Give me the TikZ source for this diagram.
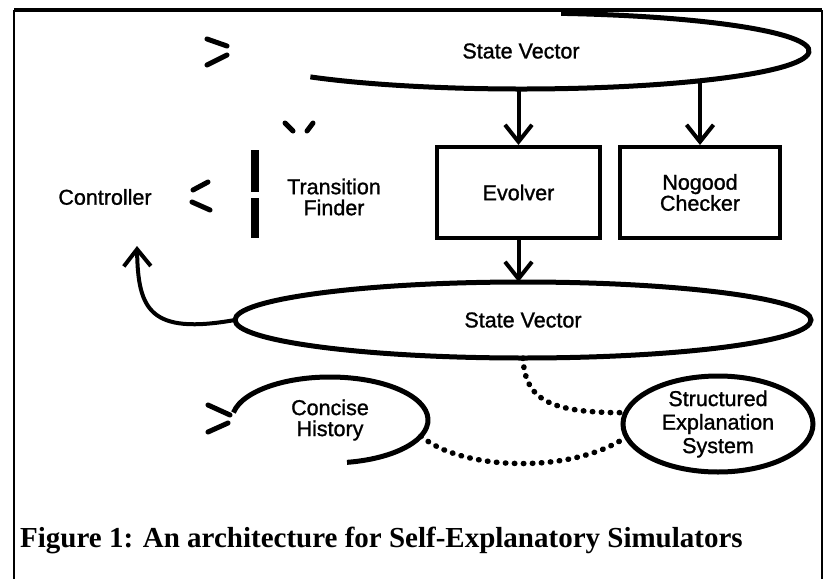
\documentclass[tikz,border=0pt]{standalone}
\usepackage{fontspec}
\setmainfont{Liberation Serif}
\setsansfont{Liberation Sans}
\newfontfamily\diagsans{Liberation Sans}[BoldFont={Liberation Sans}, BoldFeatures={FakeBold=1.2}]
\usetikzlibrary{shapes.geometric,arrows.meta,calc}

\begin{document}
\begin{tikzpicture}[x=1pt,y=1pt,
  lbl/.style={font=\diagsans\bfseries\fontsize{21.5}{21}\selectfont, align=center, inner sep=0pt},
  oval/.style={ellipse, inner sep=0pt, outer sep=0pt, lbl},
  ovalline/.style={line width=5pt},
  boxnode/.style={rectangle, draw, line width=4pt, minimum width=163pt, minimum height=91pt, inner sep=0pt, lbl},
  flow/.style={line width=4pt, -{Straight Barb[length=17pt,width=27pt]}},
  dots/.style={line width=5.5pt, line cap=round, dash pattern=on 0.5pt off 8.5pt},
  tick/.style={line width=5pt, line cap=round},
  frameline/.style={line width=2.5pt}]
\useasboundingbox (0,0) rectangle (831,-579);

% frame (open at the bottom)
\draw[frameline, line width=3.5pt] (14,-10) -- (822,-10);
\draw[frameline] (14,-10) -- (14,-579);
\draw[frameline] (822,-10) -- (822,-579);

% upper state vector (only part of its outline)
\node[oval, minimum width=576pt, minimum height=76pt] (sv1) at (521,-51) {State Vector};
\draw[ovalline] ([shift={(82:288 and 38)}]sv1.center)
  arc[start angle=82, end angle=-137, x radius=288, y radius=38];

% boxes
\node[boxnode] (ev) at (518.5,-192.5) {Evolver};
\node[boxnode, minimum width=160pt] (ng) at (700,-192.5) {Nogood\\Checker};

% lower state vector
\node[oval, draw, ovalline, minimum width=576pt, minimum height=76pt] (sv2) at (523,-320) {State Vector};

% controller and transition finder
\node[lbl] (ctrl) at (105,-197) {Controller};
\coordinate (ctrlin) at (137,-246);
\node[lbl] (tf) at (334,-197) {Transition\\Finder};
\draw[line width=8pt] (255,-150) -- (255,-192);
\draw[line width=8pt] (255,-198) -- (255,-238);

% concise history (partial outline)
\node[oval, minimum width=196pt, minimum height=86pt] (ch) at (330,-420) {Concise\\History};
\draw[ovalline] ([shift={(170:98 and 43)}]ch.center)
  arc[start angle=170, end angle=-80, x radius=98, y radius=43];

% structured explanation system
\node[oval, draw, ovalline, minimum width=190pt, minimum height=96pt,
  font=\diagsans\bfseries\fontsize{21.5}{23.5}\selectfont] (ses) at (718,-424) {Structured\\Explanation\\System};

% flows
\draw[flow] (ev.north |- sv1.-90) -- (ev.north);
\draw[flow] (ng.north |- sv1.-9.6) -- (ng.north);
\draw[flow] (ev.south) -- (ev.south |- sv2.north);
\draw[flow] (sv2.west) .. controls (150,-335) and (138,-310) .. (ctrlin);

% explanation links
\draw[dots] (sv2.south) .. controls (525,-400) and (550,-413) .. (ses.173);
\draw[dots] (ch.-10) .. controls (460,-470) and (570,-475) .. (ses.188);

% arrowheads whose shafts are not shown
\draw[tick] (207,-39) -- (227,-46);
\draw[tick] (207,-65) -- (227,-55);
\draw[tick] (285,-123) -- (293,-131);
\draw[tick] (313,-123) -- (307,-131);
\draw[tick] (208,-182) -- (193,-190);
\draw[tick] (192,-202) -- (210,-210);
\draw[tick] (208,-405) -- (230,-415);
\draw[tick] (208,-432) -- (228,-423);

% caption
\node[anchor=base west, inner sep=0pt, font=\bfseries\fontsize{29}{30}\selectfont] (cap) at (20,-547)
  {Figure 1: An architecture for Self-Explanatory Simulators};
\end{tikzpicture}
\end{document}
